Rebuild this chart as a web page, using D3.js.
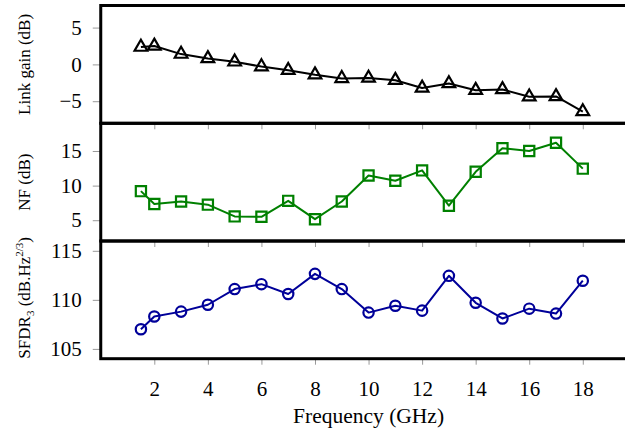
<!DOCTYPE html>
<html><head><meta charset="utf-8">
<script src="https://cdn.jsdelivr.net/npm/d3@7"></script>
<style>body{margin:0;background:#fff} svg{display:block} text{font-family:"Liberation Serif","Times New Roman",serif !important}</style>
</head><body><svg id="c" width="625" height="433"></svg>
<script>
// ---- data ----
const freq = [1.5, 2, 3, 4, 5, 6, 7, 8, 9, 10, 11, 12, 13, 14, 15, 16, 17, 18];
const linkGain = [2.35, 2.5, 1.4, 0.8, 0.35, -0.3, -0.8, -1.4, -1.9, -1.85, -2.15, -3.2, -2.6, -3.5, -3.4, -4.4, -4.35, -6.4];
const noiseFigure = [9.2, 7.35, 7.7, 7.25, 5.55, 5.5, 7.8, 5.15, 7.7, 11.45, 10.7, 12.2, 7.1, 12.0, 15.4, 15.0, 16.2, 12.45];
const sfdr = [107.0, 108.3, 108.8, 109.5, 111.1, 111.6, 110.6, 112.65, 111.1, 108.7, 109.4, 108.9, 112.45, 109.7, 108.1, 109.1, 108.6, 111.95];
const xTicks = [2, 4, 6, 8, 10, 12, 14, 16, 18];
const gainTicks = [-5, 0, 5];
const nfTicks = [5, 10, 15];
const sfdrTicks = [105, 110, 115];

const svg = d3.select("#c");
const x = d3.scaleLinear().domain([0, 20]).range([100.75, 636.35]);
const bounds = [5.5, 123.3, 241, 358.7];

const panels = [
  {vals: linkGain, dom: [-8, 8], ticks: gainTicks, color: "#000", sym: d3.symbolTriangle, size: 70},
  {vals: noiseFigure, dom: [2, 19], ticks: nfTicks, color: "rgb(0,128,0)", sym: d3.symbolSquare, size: 104},
  {vals: sfdr, dom: [104, 116], ticks: sfdrTicks, color: "rgb(0,0,153)", sym: d3.symbolCircle, size: 84}
];

panels.forEach((p, i) => {
  const top = bounds[i], bot = bounds[i + 1];
  const y = d3.scaleLinear().domain(p.dom).range([bot, top]);
  const g = svg.append("g");

  const ya = g.append("g").attr("transform", `translate(${x(0)},0)`)
    .call(d3.axisLeft(y).tickValues(p.ticks).tickSize(8).tickPadding(11));
  ya.select(".domain").remove();
  ya.selectAll(".tick line").attr("stroke", "#999").attr("stroke-width", 1);
  ya.selectAll(".tick text").attr("font-size", 21).attr("fill", "#000");

  const xa = g.append("g").attr("transform", `translate(0,${bot})`)
    .call(d3.axisBottom(x).tickValues(xTicks).tickSize(6).tickPadding(16));
  xa.select(".domain").remove();
  xa.selectAll(".tick line").attr("stroke", "#999").attr("stroke-width", 1);
  if (i < 2) xa.selectAll(".tick text").remove();
  else xa.selectAll(".tick text").attr("font-size", 21).attr("fill", "#000");

  const line = d3.line().x((d, j) => x(freq[j])).y(d => y(d));
  g.append("path").datum(p.vals).attr("d", line)
    .attr("fill", "none").attr("stroke", p.color).attr("stroke-width", 2).attr("stroke-linejoin", "round");
  g.selectAll("path.m").data(p.vals).join("path").attr("class", "m")
    .attr("transform", (d, j) => `translate(${x(freq[j])},${y(d)})`)
    .attr("d", d3.symbol().type(p.sym).size(p.size))
    .attr("fill", "none").attr("stroke", p.color).attr("stroke-width", 2.2);

  g.append("rect").attr("x", x(0)).attr("y", top).attr("width", x(20) - x(0)).attr("height", bot - top)
    .attr("fill", "none").attr("stroke", "#000").attr("stroke-width", 3);
});

const ylab = (cy, build) => {
  const t = svg.append("text").attr("transform", `translate(30,${cy}) rotate(-90)`)
    .attr("text-anchor", "middle").attr("font-size", 17).attr("fill", "#000");
  build(t);
};
ylab((bounds[0] + bounds[1]) / 2, t => t.text("Link gain (dB)"));
ylab((bounds[1] + bounds[2]) / 2, t => t.text("NF (dB)"));
ylab((bounds[2] + bounds[3]) / 2 - 2, t => {
  t.append("tspan").text("SFDR");
  t.append("tspan").attr("font-size", 11).attr("dy", 4).text("3");
  t.append("tspan").attr("dy", -4).text(" (dB.Hz");
  t.append("tspan").attr("font-size", 11).attr("dy", -7).text("2/3");
  t.append("tspan").attr("dy", 7).text(")");
});

svg.append("text").attr("x", (x(0) + x(20)) / 2).attr("y", 423)
  .attr("text-anchor", "middle").attr("font-size", 21.5).attr("fill", "#000")
  .text("Frequency (GHz)");
</script>
</body></html>
